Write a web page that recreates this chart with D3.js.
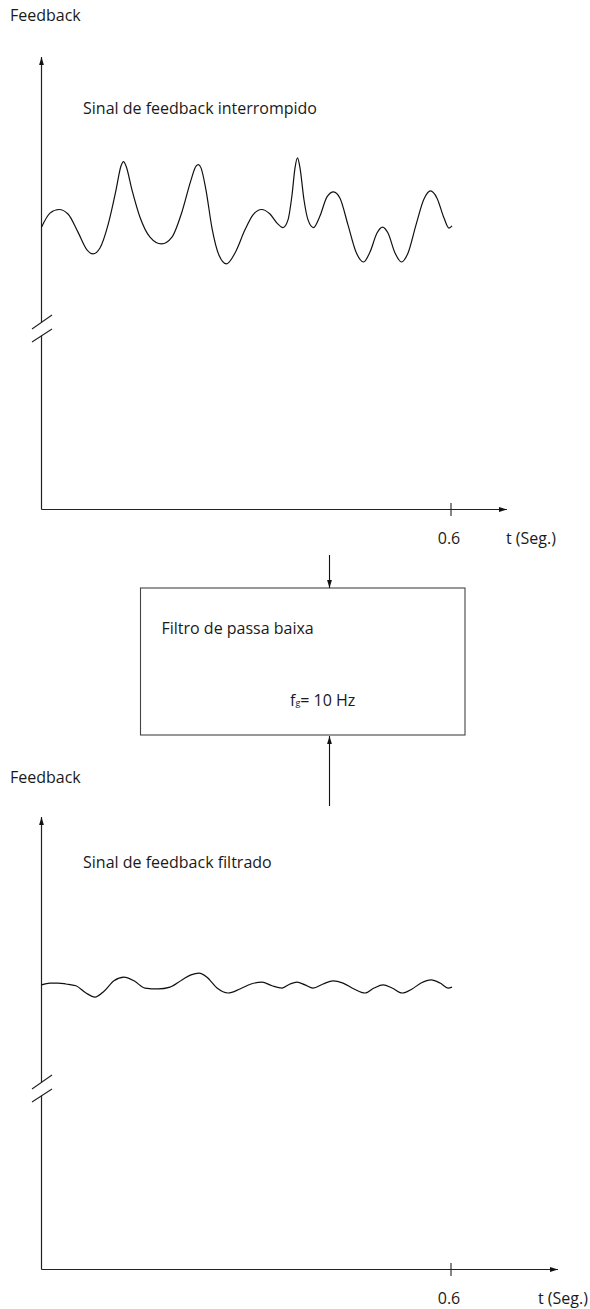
<!DOCTYPE html>
<html><head><meta charset="utf-8">
<script src="https://cdn.jsdelivr.net/npm/d3@7"></script>
<style>
body{margin:0;background:#fff}
svg{display:block}
text{font-family:"Open Sans",sans-serif;fill:#1a1a1a}
</style>
</head><body>
<script>
// ---- data (time in seconds, feedback in arbitrary units) ----
const rawTime = [0,0.0125,0.0257,0.0389,0.0535,0.0667,0.0755,0.0858,0.0976,0.1093,0.1166,0.1203,0.1240,0.1328,0.1445,0.1592,0.1760,0.1914,0.2061,0.2193,0.2267,0.2303,0.2340,0.2413,0.2501,0.2604,0.2714,0.2839,0.2985,0.3103,0.3227,0.3352,0.3455,0.3543,0.3616,0.3675,0.3719,0.3756,0.3792,0.3851,0.3910,0.3990,0.4086,0.4188,0.4284,0.4379,0.4496,0.4614,0.4724,0.4819,0.4922,0.5002,0.5083,0.5186,0.5281,0.5377,0.5494,0.5611,0.5707,0.5802,0.5905,0.5978,0.6022];
const rawValue = [6.24,6.55,6.63,6.53,6.13,5.74,5.65,5.78,6.29,7.06,7.59,7.69,7.59,7.06,6.46,6.02,5.87,6.02,6.58,7.28,7.59,7.62,7.55,7.06,6.22,5.62,5.43,5.67,6.18,6.51,6.63,6.53,6.33,6.23,6.40,6.95,7.55,7.77,7.55,6.84,6.40,6.23,6.49,6.91,7.02,6.88,6.29,5.69,5.47,5.69,6.11,6.24,6.11,5.67,5.47,5.67,6.29,6.86,7.04,6.88,6.44,6.22,6.27];
const filtTime = [0,0.0125,0.0242,0.0359,0.0506,0.0653,0.0785,0.0917,0.1063,0.1210,0.1357,0.1519,0.1709,0.1885,0.2061,0.2193,0.2311,0.2428,0.2575,0.2736,0.2912,0.3074,0.3235,0.3382,0.3529,0.3646,0.3749,0.3866,0.3984,0.4130,0.4277,0.4424,0.4585,0.4747,0.4879,0.5011,0.5143,0.5289,0.5436,0.5568,0.5715,0.5847,0.5964,0.6022];
const filtValue = [6.29,6.33,6.33,6.31,6.27,6.11,6.02,6.15,6.38,6.46,6.38,6.22,6.20,6.24,6.40,6.51,6.55,6.46,6.22,6.11,6.20,6.31,6.35,6.27,6.22,6.31,6.35,6.29,6.22,6.31,6.38,6.33,6.20,6.11,6.22,6.29,6.22,6.11,6.20,6.33,6.40,6.33,6.22,6.24];
const xTickValues = [0.6];
const yAxisLabel = "Feedback";
const xAxisLabel = "t (Seg.)";
const rawTitle = "Sinal de feedback interrompido";
const filtTitle = "Sinal de feedback filtrado";
const filterTitle = "Filtro de passa baixa";
const filterFreq = "10 Hz";

// ---- layout ----
const W = 590, H = 1309;
const FS = 16;
const svg = d3.select("body").append("svg").attr("width", W).attr("height", H);

const defs = svg.append("defs");
defs.append("marker").attr("id","arr").attr("viewBox","0 0 8 6")
  .attr("refX",8).attr("refY",3).attr("markerWidth",8).attr("markerHeight",6)
  .attr("markerUnits","userSpaceOnUse").attr("orient","auto")
  .append("path").attr("d","M0,0.6L8,3L0,5.4Z").attr("fill","#111");

const x = d3.scaleLinear().domain([0, 0.6]).range([41.5, 450.5]);
const y = d3.scaleLinear().domain([0, 10]).range([509.5, 57]);

const line = d3.line().x(d => x(d[0])).y(d => y(d[1])).curve(d3.curveMonotoneX);

function panel(offset, times, values, title, opt) {
  const g = svg.append("g").attr("transform", `translate(0,${offset})`);
  const axisColor = "#222";
  g.append("text").attr("x", 10).attr("y", opt.fbY).attr("font-size", FS).text(yAxisLabel);
  g.append("text").attr("x", 83).attr("y", opt.titleY).attr("font-size", FS).text(title);

  // y axis with break
  const x0 = x(0);
  g.append("line").attr("x1", x0).attr("x2", x0).attr("y1", 322).attr("y2", y(10))
    .attr("stroke", axisColor).attr("stroke-width", 1.2).attr("marker-end", "url(#arr)");
  g.append("line").attr("x1", x0).attr("x2", x0).attr("y1", y(0)).attr("y2", 335.5)
    .attr("stroke", axisColor).attr("stroke-width", 1.2);
  [[329, 315], [342, 329]].forEach(([a, b]) => {
    g.append("line").attr("x1", x0 - 9.5).attr("y1", a).attr("x2", x0 + 10.5).attr("y2", b)
      .attr("stroke", axisColor).attr("stroke-width", 1.1);
  });

  // x axis line + arrow
  g.append("line").attr("x1", x0).attr("x2", opt.arrowX).attr("y1", y(0)).attr("y2", y(0))
    .attr("stroke", axisColor).attr("stroke-width", 1.2).attr("marker-end", "url(#arr)");

  const ax = g.append("g").attr("transform", `translate(0,${y(0)})`)
    .call(d3.axisBottom(x).tickValues(xTickValues).tickFormat(d3.format(".1f")).tickSize(6.5));
  ax.select(".domain").remove();
  ax.selectAll(".tick line").attr("y1", -6.5).attr("stroke", axisColor).attr("stroke-width", 1.1);
  ax.selectAll(".tick text").attr("y", 34.5).attr("dy", 0).attr("x", -2)
    .attr("font-size", FS).attr("font-family", "Open Sans, sans-serif").attr("fill", "#1a1a1a");

  g.append("text").attr("x", opt.tX).attr("y", y(0) + 34.5).attr("font-size", FS).text(xAxisLabel);

  const data = times.map((t, i) => [t, values[i]]);
  g.append("path").datum(data).attr("d", line)
    .attr("fill", "none").attr("stroke", "#111").attr("stroke-width", 1.2);
}

panel(0, rawTime, rawValue, rawTitle, {fbY: 21, titleY: 114, arrowX: 507, tX: 506});
panel(760, filtTime, filtValue, filtTitle, {fbY: 22.5, titleY: 108, arrowX: 558, tX: 538});

// filter box
const bx = svg.append("g");
bx.append("rect").attr("x", 140.5).attr("y", 588).attr("width", 324.5).attr("height", 147)
  .attr("fill", "none").attr("stroke", "#444").attr("stroke-width", 1.1);
bx.append("line").attr("x1", 329.5).attr("x2", 329.5).attr("y1", 555).attr("y2", 588)
  .attr("stroke", "#111").attr("stroke-width", 1.1).attr("marker-end", "url(#arr)");
bx.append("line").attr("x1", 329.5).attr("x2", 329.5).attr("y1", 806).attr("y2", 736)
  .attr("stroke", "#111").attr("stroke-width", 1.1).attr("marker-end", "url(#arr)");
bx.append("text").attr("x", 161.5).attr("y", 634).attr("font-size", FS).text(filterTitle);
const ft = bx.append("text").attr("x", 290).attr("y", 705.5).attr("font-size", FS);
ft.append("tspan").text("f");
ft.append("tspan").attr("font-size", 9).text("g");
ft.append("tspan").attr("font-size", FS).text("= " + filterFreq);
</script>
</body></html>
